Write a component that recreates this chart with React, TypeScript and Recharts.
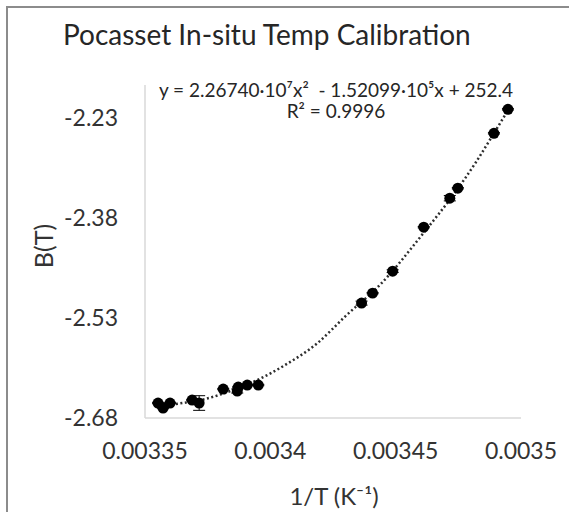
import React from "react";
import {
  ComposedChart,
  Scatter,
  Line,
  XAxis,
  YAxis,
  ZAxis,
  ErrorBar,
} from "recharts";

// measured points, 1/T vs B(T)
const invT = [
  0.0033552, 0.0033572, 0.00336, 0.0033688, 0.0033716, 0.0033812, 0.0033868,
  0.0033872, 0.0033908, 0.0033952, 0.0034364, 0.0034408, 0.0034488,
  0.0034612, 0.0034716, 0.0034748, 0.0034892, 0.0034948,
];
const bT = [
  -2.6575, -2.665, -2.6575, -2.653, -2.6575, -2.6365, -2.6395, -2.6335,
  -2.6305, -2.6305, -2.5075, -2.4925, -2.4595, -2.3935, -2.35, -2.335,
  -2.2525, -2.2165,
];
const bErr = [
  0.001, 0.001, 0.001, 0.001, 0.011, 0.001, 0.003, 0.001, 0.001, 0.001,
  0.003, 0.001, 0.002, 0.001, 0.004, 0.001, 0.001, 0.001,
];

// trendline
const trendX = [
  0.0033552, 0.003364, 0.003374, 0.003384, 0.0033948, 0.0034052, 0.0034188,
  0.00343, 0.003444, 0.003462, 0.003472, 0.003482, 0.0034892, 0.0034948,
];
const trendY = [
  -2.662, -2.658, -2.6515, -2.6395, -2.623, -2.602, -2.5675, -2.527, -2.479,
  -2.398, -2.35, -2.296, -2.2525, -2.218,
];

const xTicks = [0.00335, 0.0034, 0.00345, 0.0035];
const yTicks = [-2.68, -2.53, -2.38, -2.23];

const points = invT.map((x, i) => ({ x, y: bT[i], err: bErr[i] }));
const trend = trendX.map((x, i) => ({ x, y: trendY[i] }));

const font = "Lato, 'Open Sans', sans-serif";
const textColor = "#333333";

export default function App() {
  return (
    <div
      style={{
        position: "absolute",
        left: 0,
        top: 0,
        width: 569,
        height: 512,
        overflow: "hidden",
        background: "#fff",
        fontFamily: font,
      }}
    >
      <div
        style={{
          position: "absolute",
          left: 6,
          top: 6,
          width: 600,
          height: 600,
          border: "2px solid #8c8c8c",
        }}
      />
      <ComposedChart
        width={569}
        height={512}
        margin={{ top: 85, right: 48, left: 45, bottom: 4 }}
        style={{ position: "absolute", left: 0, top: 0 }}
      >
        <XAxis
          dataKey="x"
          type="number"
          domain={[0.00335, 0.0035]}
          ticks={xTicks}
          allowDataOverflow
          height={90}
          tickLine={false}
          tickSize={0}
          tickMargin={25}
          axisLine={{ stroke: "#d9d9d9", strokeWidth: 1.5 }}
          tick={{ fontSize: 23, fill: textColor, fontFamily: font }}
          tickFormatter={(v: number) => String(v)}
        />
        <YAxis
          dataKey="y"
          type="number"
          domain={[-2.68, -2.18]}
          ticks={yTicks}
          allowDataOverflow
          width={100}
          tickLine={false}
          tickSize={0}
          tickMargin={27}
          axisLine={{ stroke: "#d9d9d9", strokeWidth: 1.5 }}
          tick={{ fontSize: 23, fill: textColor, fontFamily: font }}
          tickFormatter={(v: number) => v.toFixed(2)}
        />
        <ZAxis range={[95, 95]} />
        <Line
          data={trend}
          dataKey="y"
          type="monotone"
          stroke="#2e2e2e"
          strokeWidth={2.5}
          strokeDasharray="2 2.5"
          dot={false}
          activeDot={false}
          isAnimationActive={false}
        />
        <Scatter
          data={points}
          dataKey="y"
          fill="#000"
          shape="circle"
          isAnimationActive={false}
        >
          <ErrorBar
            dataKey="err"
            direction="y"
            width={6}
            stroke="#000"
            strokeWidth={1}
          />
        </Scatter>
      </ComposedChart>
      <div
        style={{
          position: "absolute",
          left: 63,
          top: 17,
          fontSize: 28,
          color: "#262626",
          whiteSpace: "nowrap",
        }}
      >
        Pocasset In-situ Temp Calibration
      </div>
      <div
        style={{
          position: "absolute",
          left: 136,
          width: 400,
          top: 79,
          textAlign: "center",
          fontSize: 19,
          lineHeight: "21px",
          color: "#262626",
        }}
      >
        <div>y = 2.26740·10⁷x²&nbsp; - 1.52099·10⁵x + 252.4</div>
        <div>R² = 0.9996</div>
      </div>
      <div
        style={{
          position: "absolute",
          left: 43,
          top: 246,
          transform: "translate(-50%, -50%) rotate(-90deg)",
          fontSize: 25,
          color: textColor,
          whiteSpace: "nowrap",
        }}
      >
        B(T)
      </div>
      <div
        style={{
          position: "absolute",
          left: 334,
          top: 495,
          transform: "translate(-50%, -50%)",
          fontSize: 24,
          color: textColor,
          whiteSpace: "nowrap",
        }}
      >
        1/T (K⁻¹)
      </div>
    </div>
  );
}
